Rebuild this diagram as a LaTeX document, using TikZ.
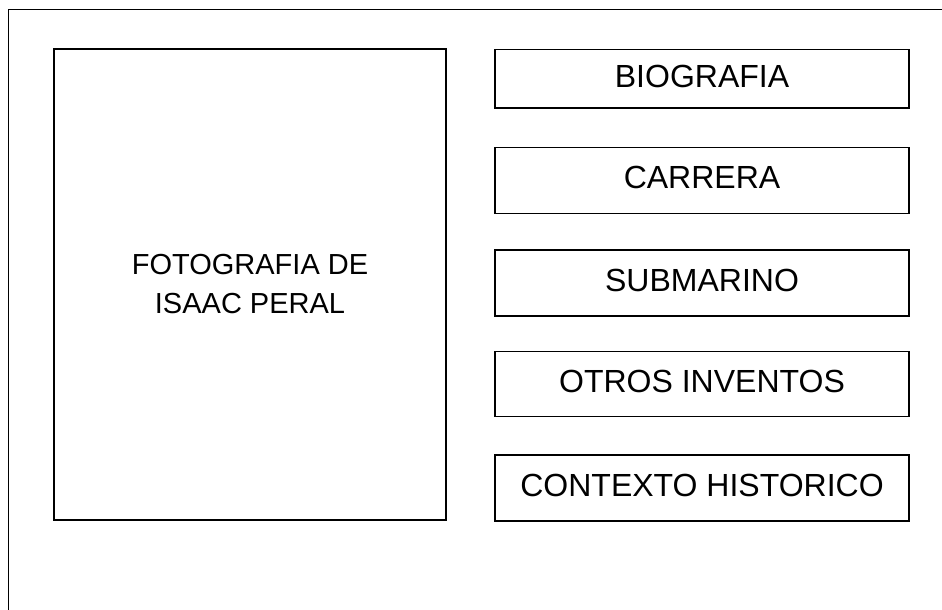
\documentclass[tikz,border=0pt]{standalone}
\usepackage{fontspec}
\setmainfont{Liberation Sans}
\usepackage{tikz}

\begin{document}
\begin{tikzpicture}[x=1pt, y=-1pt, line width=1.3pt,
		menu/.style={draw, minimum width=414pt, inner sep=0pt, font=\fontsize{32}{38}\selectfont, text height=22pt, text depth=5pt}]
			\useasboundingbox (0,0) rectangle (942,610);
			\coordinate (corner) at (8.5,9.7);
			\draw (corner |- 0,611) -- (corner) -- (943,9.7);

			\node[draw, minimum width=392pt, minimum height=471pt, inner sep=0pt, align=center, font=\fontsize{29}{39}\selectfont] (photo) at (250,284.5) {FOTOGRAFIA DE\\ISAAC PERAL};

			\node[menu, minimum height=58.5pt] (biografia) at (702,78.8) {BIOGRAFIA};
			\node[menu, minimum height=66pt] (carrera) at (702,180.3) {CARRERA};
			\node[menu, minimum height=66pt] (submarino) at (702,283) {SUBMARINO};
			\node[menu, minimum height=65pt] (inventos) at (702,384.2) {OTROS INVENTOS};
			\node[menu, minimum height=66pt] (contexto) at (702,488) {CONTEXTO HISTORICO};
		\end{tikzpicture}
\end{document}
